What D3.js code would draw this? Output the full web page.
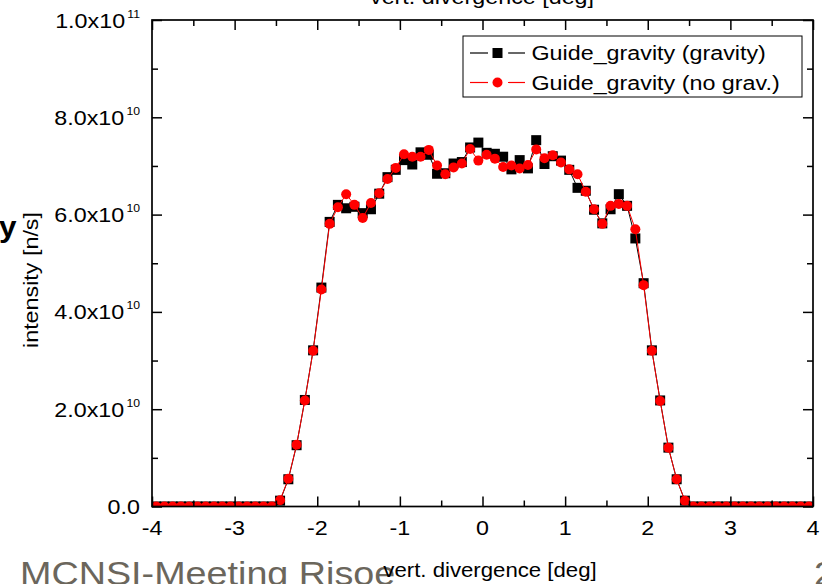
<!DOCTYPE html>
<html><head><meta charset="utf-8">
<script src="https://cdn.jsdelivr.net/npm/d3@7"></script>
<style>
html,body{margin:0;padding:0;background:#fff;}
svg{display:block;font-family:"Liberation Sans",Arial,sans-serif;}
</style></head>
<body><svg id="c" width="822" height="584"></svg>
<script>
// ---- data (intensity in units of 1e10 n/s) ----
const divergence = [-3.95,-3.85,-3.75,-3.65,-3.55,-3.45,-3.35,-3.25,-3.15,-3.05,-2.95,-2.85,-2.75,-2.65,-2.55,
  -2.45,-2.35,-2.25,-2.15,-2.05,-1.95,-1.85,-1.75,-1.65,-1.55,-1.45,-1.35,-1.25,-1.15,-1.05,
  -0.95,-0.85,-0.75,-0.65,-0.55,-0.45,-0.35,-0.25,-0.15,-0.05,0.05,0.15,0.25,0.35,0.45,
  0.55,0.65,0.75,0.85,0.95,1.05,1.15,1.25,1.35,1.45,1.55,1.65,1.75,1.85,1.95,
  2.05,2.15,2.25,2.35,2.45,2.55,2.65,2.75,2.85,2.95,3.05,3.15,3.25,3.35,3.45,3.55,3.65,3.75,3.85,3.95];
const gravity = [0,0,0,0,0,0,0,0,0,0,0,0,0,0,0,
  0.12,0.56,1.26,2.19,3.21,4.50,5.85,6.20,6.13,6.16,6.03,6.11,6.43,6.77,6.92,
  7.12,7.03,7.28,7.23,6.84,6.85,7.05,7.08,7.38,7.48,7.27,7.25,7.19,6.93,7.12,
  6.95,7.53,7.04,7.20,7.11,6.92,6.55,6.49,6.10,5.82,6.11,6.42,6.18,5.51,4.59,
  3.21,2.18,1.21,0.56,0.12,0,0,0,0,0,0,0,0,0,0,0,0,0,0,0];
const noGrav = [0,0,0,0,0,0,0,0,0,0,0,0,0,0,0,
  0.13,0.57,1.27,2.18,3.20,4.46,5.81,6.15,6.42,6.20,5.93,6.24,6.44,6.73,6.96,
  7.24,7.19,7.19,7.33,7.01,6.83,6.97,7.05,7.35,7.11,7.23,7.15,6.98,7.01,6.95,
  7.02,7.34,7.16,7.22,7.07,6.93,6.83,6.47,6.11,5.81,6.18,6.22,6.18,5.70,4.55,
  3.20,2.17,1.21,0.56,0.12,0,0,0,0,0,0,0,0,0,0,0,0,0,0,0];
const seriesNames = ["Guide_gravity (gravity)", "Guide_gravity (no grav.)"];
const xTicks = [-4,-3,-2,-1,0,1,2,3,4];
const xMinor = [-3.5,-2.5,-1.5,-0.5,0.5,1.5,2.5,3.5];
const yTicks = [0,2e10,4e10,6e10,8e10,1e11];
const yMinor = [1e10,3e10,5e10,7e10,9e10];
const yTickMant = ["0.0","2.0x10","4.0x10","6.0x10","8.0x10","1.0x10"];
const yTickExp = ["","10","10","10","10","11"];
const SCALE = 1e10;

// ---- layout ----
const L=152, R=813, T=20, B=506.5;
const SX = 1.11; // horizontal stretch of the original text
const svg = d3.select("#c");
const x = d3.scaleLinear().domain([-4,4]).range([L,R]);
const y = d3.scaleLinear().domain([0,1e11]).range([B,T]);

function txt(parent, px, py, str, size, anchor, opts={}) {
  const g = parent.append("g").attr("transform", `translate(${px},${py}) ${opts.rot?`rotate(${opts.rot})`:""} scale(${opts.sx||SX},1)`);
  const t = g.append("text").attr("x",0).attr("y",0).attr("font-size",size)
    .attr("text-anchor",anchor).attr("fill",opts.fill||"#000");
  if (opts.weight) t.attr("font-weight",opts.weight);
  t.text(str);
  return t;
}

// clip
svg.append("defs").append("clipPath").attr("id","clip")
  .append("rect").attr("x",L).attr("y",T).attr("width",R-L).attr("height",B-T);

// data
const SQ = 10, CR = 5;
const ptsG = divergence.map((d,i)=>({x:d, v:gravity[i]*SCALE}));
const ptsN = divergence.map((d,i)=>({x:d, v:noGrav[i]*SCALE}));
const line = d3.line().x(d=>x(d.x)).y(d=>y(d.v));
const dg = svg.append("g").attr("clip-path","url(#clip)");
dg.append("path").datum(ptsG).attr("d",line).attr("fill","none").attr("stroke","#000").attr("stroke-width",1);
dg.selectAll("rect.sq").data(ptsG).join("rect").attr("class","sq")
  .attr("x",d=>x(d.x)-SQ/2).attr("y",d=>y(d.v)-SQ/2).attr("width",SQ).attr("height",SQ).attr("fill","#000");
dg.append("path").datum(ptsN).attr("d",line).attr("fill","none").attr("stroke","#ff0000").attr("stroke-width",1);
dg.selectAll("circle.ci").data(ptsN).join("circle").attr("class","ci")
  .attr("cx",d=>x(d.x)).attr("cy",d=>y(d.v)).attr("r",CR).attr("fill","#ff0000");

// axes ticks (inward)
function styleAxis(g){ g.select(".domain").remove(); g.selectAll("line").attr("stroke","#000").attr("stroke-width",1.5); }
svg.append("g").attr("transform",`translate(0,${B})`).call(d3.axisBottom(x).tickValues(xTicks).tickSize(-10).tickFormat("")).call(styleAxis);
svg.append("g").attr("transform",`translate(0,${B})`).call(d3.axisBottom(x).tickValues(xMinor).tickSize(-6).tickFormat("")).call(styleAxis);
svg.append("g").attr("transform",`translate(0,${T})`).call(d3.axisTop(x).tickValues(xTicks).tickSize(-10).tickFormat("")).call(styleAxis);
svg.append("g").attr("transform",`translate(0,${T})`).call(d3.axisTop(x).tickValues(xMinor).tickSize(-6).tickFormat("")).call(styleAxis);
svg.append("g").attr("transform",`translate(${L},0)`).call(d3.axisLeft(y).tickValues(yTicks).tickSize(-10).tickFormat("")).call(styleAxis);
svg.append("g").attr("transform",`translate(${L},0)`).call(d3.axisLeft(y).tickValues(yMinor).tickSize(-6).tickFormat("")).call(styleAxis);
svg.append("g").attr("transform",`translate(${R},0)`).call(d3.axisRight(y).tickValues(yTicks).tickSize(-10).tickFormat("")).call(styleAxis);
svg.append("g").attr("transform",`translate(${R},0)`).call(d3.axisRight(y).tickValues(yMinor).tickSize(-6).tickFormat("")).call(styleAxis);
svg.append("rect").attr("x",L).attr("y",T).attr("width",R-L).attr("height",B-T)
  .attr("fill","none").attr("stroke","#000").attr("stroke-width",1.7);

// x tick labels
xTicks.forEach(v=>txt(svg, x(v), 535, String(v), 21, "middle"));
// y tick labels with superscripts
yTicks.forEach((v,i)=>{
  const g = svg.append("g").attr("transform",`translate(140,${y(v)+7.5}) scale(${SX},1)`);
  const t = g.append("text").attr("text-anchor","end").attr("font-size",21);
  t.append("tspan").text(yTickMant[i]);
  if (yTickExp[i]) t.append("tspan").attr("font-size",11).attr("dy",-10).attr("dx",2).text(yTickExp[i]);
});

// axis titles
txt(svg, 37.5, 280, "intensity [n/s]", 21, "middle", {rot:-90});
txt(svg, 482, 4, "vert. divergence [deg]", 21, "middle");
// slide remnants
txt(svg, 20, 585, "MCNSI-Meeting Risoe", 34, "start", {fill:"#6b665c"});
txt(svg, 814, 585, "2", 34, "start", {fill:"#6b665c"});
txt(svg, -1, 237, "y", 30, "start", {weight:"bold", sx:1.05});
txt(svg, 490, 577, "vert. divergence [deg]", 20, "middle");

// legend
const lg = svg.append("g");
lg.append("rect").attr("x",463).attr("y",36).attr("width",339).attr("height",61)
  .attr("fill","#fff").attr("stroke","#000").attr("stroke-width",1);
const rows = [{y:53,color:"#000",shape:"sq"},{y:82.5,color:"#ff0000",shape:"ci"}];
rows.forEach((r,i)=>{
  lg.append("line").attr("x1",470).attr("x2",488).attr("y1",r.y).attr("y2",r.y).attr("stroke",r.color).attr("stroke-width",1.2);
  lg.append("line").attr("x1",508).attr("x2",525).attr("y1",r.y).attr("y2",r.y).attr("stroke",r.color).attr("stroke-width",1.2);
  if (r.shape==="sq") lg.append("rect").attr("x",497.5-SQ/2).attr("y",r.y-SQ/2).attr("width",SQ).attr("height",SQ).attr("fill",r.color);
  else lg.append("circle").attr("cx",497.5).attr("cy",r.y).attr("r",CR).attr("fill",r.color);
  txt(lg, 531.5, r.y+7, seriesNames[i], 21, "start");
});
</script></body></html>
